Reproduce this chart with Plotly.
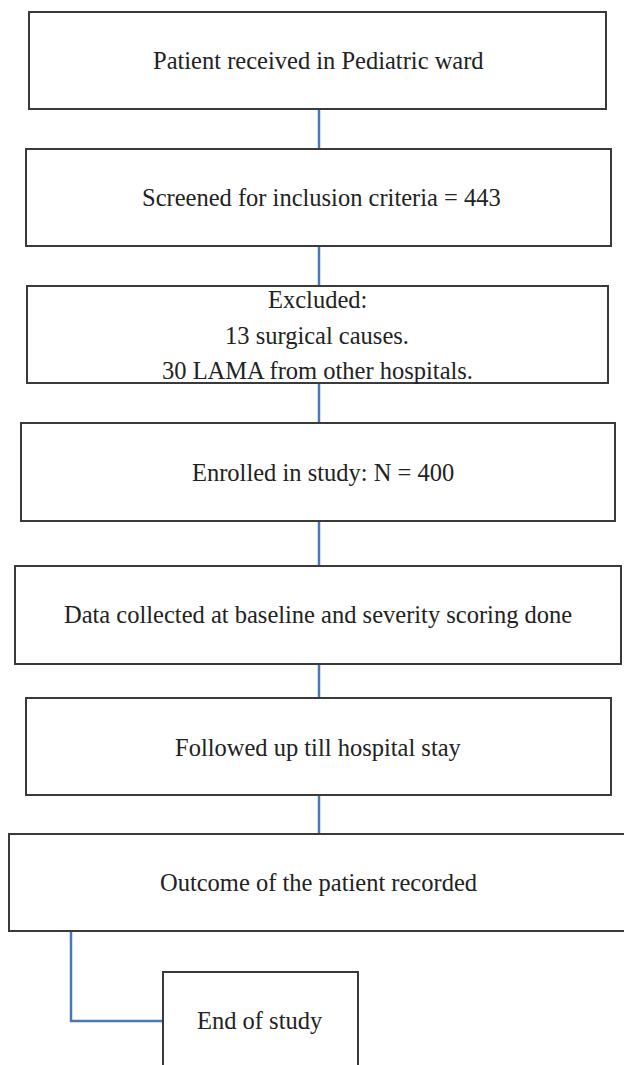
import plotly.graph_objects as go

# ---- content ----
step_labels = [
    ["Patient received in Pediatric ward"],
    ["Screened for inclusion criteria = 443"],
    ["Excluded:", "13 surgical causes.", "30 LAMA from other hospitals."],
    ["Enrolled in study: N = 400"],
    ["Data collected at baseline and severity scoring done"],
    ["Followed up till hospital stay"],
    ["Outcome of the patient recorded"],
    ["End of study"],
]

# ---- layout geometry (pixels, y downward) ----
box_x0 = [29, 26, 27, 21, 15, 26, 9, 163]
box_x1 = [606, 611, 608, 615, 621, 611, 640, 358]
box_y0 = [12, 149, 286, 423, 566, 698, 834, 972]
box_y1 = [109, 246, 383, 521, 664, 795, 931, 1100]
text_x = [318, 321, 317, 323, 318, 318, 318, 260]
text_y = [[60], [197], [299, 335, 370], [472], [614], [747], [882], [1020]]

W, H = 624, 1065
BORDER = "#3a3a3a"
LINK = "#4a78b5"
FONT = "Liberation Serif, Times New Roman, serif"

fig = go.Figure()

# connectors between consecutive boxes (vertical, at x=319)
for i in range(6):
    fig.add_trace(go.Scatter(
        x=[319, 319], y=[box_y1[i], box_y0[i + 1]], mode="lines",
        line=dict(color=LINK, width=2.5), hoverinfo="skip", showlegend=False))

# elbow connector from "Outcome" box to "End of study"
fig.add_trace(go.Scatter(
    x=[71, 71, box_x0[7]], y=[box_y1[6], 1021, 1021], mode="lines",
    line=dict(color=LINK, width=2.5), hoverinfo="skip", showlegend=False))

shapes = []
annotations = []
for i, lines in enumerate(step_labels):
    shapes.append(dict(type="rect", xref="x", yref="y",
                       x0=box_x0[i], x1=box_x1[i], y0=box_y0[i], y1=box_y1[i],
                       line=dict(color=BORDER, width=2), fillcolor="rgba(0,0,0,0)",
                       layer="above"))
    for line, ty in zip(lines, text_y[i]):
        annotations.append(dict(x=text_x[i], y=ty, xref="x", yref="y",
                                text=line, showarrow=False,
                                xanchor="center", yanchor="middle",
                                font=dict(family=FONT, size=24.5, color="#222222")))

fig.update_layout(
    width=W, height=H,
    margin=dict(l=0, r=0, t=0, b=0),
    paper_bgcolor="white", plot_bgcolor="white",
    xaxis=dict(range=[0, W], visible=False, fixedrange=True),
    yaxis=dict(range=[H, 0], visible=False, fixedrange=True),
    shapes=shapes, annotations=annotations,
    showlegend=False,
)

fig.write_html(
    "out.html",
    config={"displayModeBar": False},
    post_script="document.body.style.margin='0';document.body.style.overflow='hidden';",
)
